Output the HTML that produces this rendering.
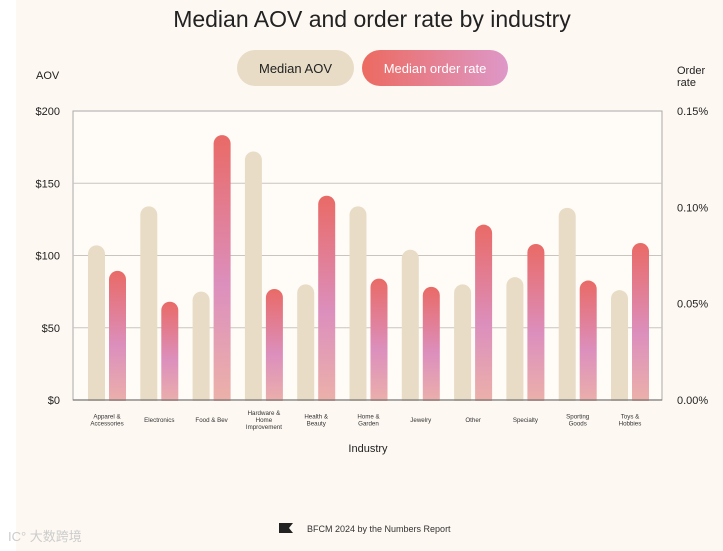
<!DOCTYPE html>
<html><head><meta charset="utf-8"><style>
html,body{margin:0;padding:0;background:#fff;}
#wrap{position:relative;width:723px;height:551px;overflow:hidden;background:#fff;font-family:"Liberation Sans",sans-serif;}
#bg{position:absolute;left:16px;top:0;width:707px;height:551px;background:#fdf8f2;}
</style></head><body>
<div id="wrap">
<div id="bg"></div>
<svg id="chart" width="723" height="551" style="position:absolute;left:0;top:0">
<defs>
<linearGradient id="barGrad" x1="0" y1="0" x2="0" y2="1">
<stop offset="0" stop-color="#e96a66"/><stop offset="0.55" stop-color="#dc8fbd"/><stop offset="1" stop-color="#edb3a8"/>
</linearGradient>
<linearGradient id="pillGrad" x1="0" y1="0" x2="1" y2="0">
<stop offset="0" stop-color="#ec6a60"/><stop offset="1" stop-color="#de98c8"/>
</linearGradient>
</defs>
<text x="372" y="27" text-anchor="middle" font-size="23" fill="#222" font-weight="300">Median AOV and order rate by industry</text>
<rect x="237" y="50" width="117" height="36" rx="18" fill="#e8dcc6"/>
<text x="295.5" y="73" text-anchor="middle" font-size="13" fill="#222">Median AOV</text>
<rect x="362" y="50" width="146" height="36" rx="18" fill="url(#pillGrad)"/>
<text x="435" y="73" text-anchor="middle" font-size="13" fill="#fff">Median order rate</text>
<text x="36" y="79" font-size="11" fill="#222">AOV</text>
<text x="677" y="74" font-size="11" fill="#222"><tspan x="677">Order</tspan><tspan x="677" dy="12">rate</tspan></text>
<g id="grid"></g><g id="bars"></g><g id="labels"></g>
<text x="368" y="452" text-anchor="middle" font-size="11" fill="#222">Industry</text>
<path d="M279 523 h14 l-4 5 l4 5 h-14 z" fill="#222"/>
<text x="307" y="532" font-size="9" fill="#333">BFCM 2024 by the Numbers Report</text>
<text x="8" y="541" font-size="13" fill="#ccc" font-family="'Liberation Sans','Noto Sans CJK SC',sans-serif">IC° 大数跨境</text>
</svg>
</div>
<script>
const categories=[["Apparel &","Accessories"],["Electronics"],["Food & Bev"],["Hardware &","Home","Improvement"],["Health &","Beauty"],["Home &","Garden"],["Jewelry"],["Other"],["Specialty"],["Sporting","Goods"],["Toys &","Hobbies"]];
const aovValues=[107,134,75,172,80,134,104,80,85,133,76];
const orderRateValues=[0.067,0.051,0.1375,0.0576,0.106,0.063,0.0587,0.091,0.081,0.062,0.0815];
const aovTicks=[0,50,100,150,200];
const aovTickLabels=["$0","$50","$100","$150","$200"];
const rateTicks=[0,0.05,0.10,0.15];
const rateTickLabels=["0.00%","0.05%","0.10%","0.15%"];

const NS="http://www.w3.org/2000/svg";
const L=73,R=662,T=111,B=400;
const yA=v=>B-(v/200)*(B-T);
const yR=v=>B-(v/0.15)*(B-T);
const step=52.3,first=107;
const xC=i=>first+i*step;
function mk(tag,attrs,parent){const e=document.createElementNS(NS,tag);for(const k in attrs)e.setAttribute(k,attrs[k]);parent.appendChild(e);return e;}
const grid=document.getElementById('grid'),bars=document.getElementById('bars'),labels=document.getElementById('labels');
mk('rect',{x:L,y:T,width:R-L,height:B-T,fill:'#fffbf6',stroke:'#aaa','stroke-width':1},grid);
aovTicks.forEach((v,i)=>{
  if(v>0&&v<200){const l=mk('line',{x1:L,x2:R,y1:yA(v),y2:yA(v),stroke:'#c9c4bd','stroke-width':1},grid);
  
  }
  const t=mk('text',{x:60,y:yA(v)+4,'text-anchor':'end','font-size':11,fill:'#222'},labels);t.textContent=aovTickLabels[i];
  
  
});
rateTicks.forEach((v,i)=>{
  const t=mk('text',{x:677,y:yR(v)+4,'font-size':11,fill:'#222'},labels);t.textContent=rateTickLabels[i];
  
  
});
const bw=17;
categories.forEach((c,i)=>{
  const xa=xC(i)-19, xr=xC(i)+2;
  const ya=yA(aovValues[i]);
  const a=mk('rect',{x:xa,y:ya,width:bw,height:B-ya+8,rx:8.5,fill:'#e8dcc6'},bars);
  
  
  const yr=yR(orderRateValues[i]);
  const r=mk('rect',{x:xr,y:yr,width:bw,height:B-yr+8,rx:8.5,fill:'url(#barGrad)'},bars);
  
  
  const n=c.length, y0=422-(n-1)*3.5;
  c.forEach((s,j)=>{const t=mk('text',{x:xC(i),y:y0+j*7,'text-anchor':'middle','font-size':6.2,fill:'#333'},labels);t.textContent=s;
    
    });
});
// cover bottom rounded overflow & axis line
mk('rect',{x:L-1,y:B+1,width:R-L+2,height:10,fill:'#fdf8f2'},bars);
const ax=mk('line',{x1:L,x2:R,y1:B,y2:B,stroke:'#777','stroke-width':1.2},bars);


</script>
</body></html>
